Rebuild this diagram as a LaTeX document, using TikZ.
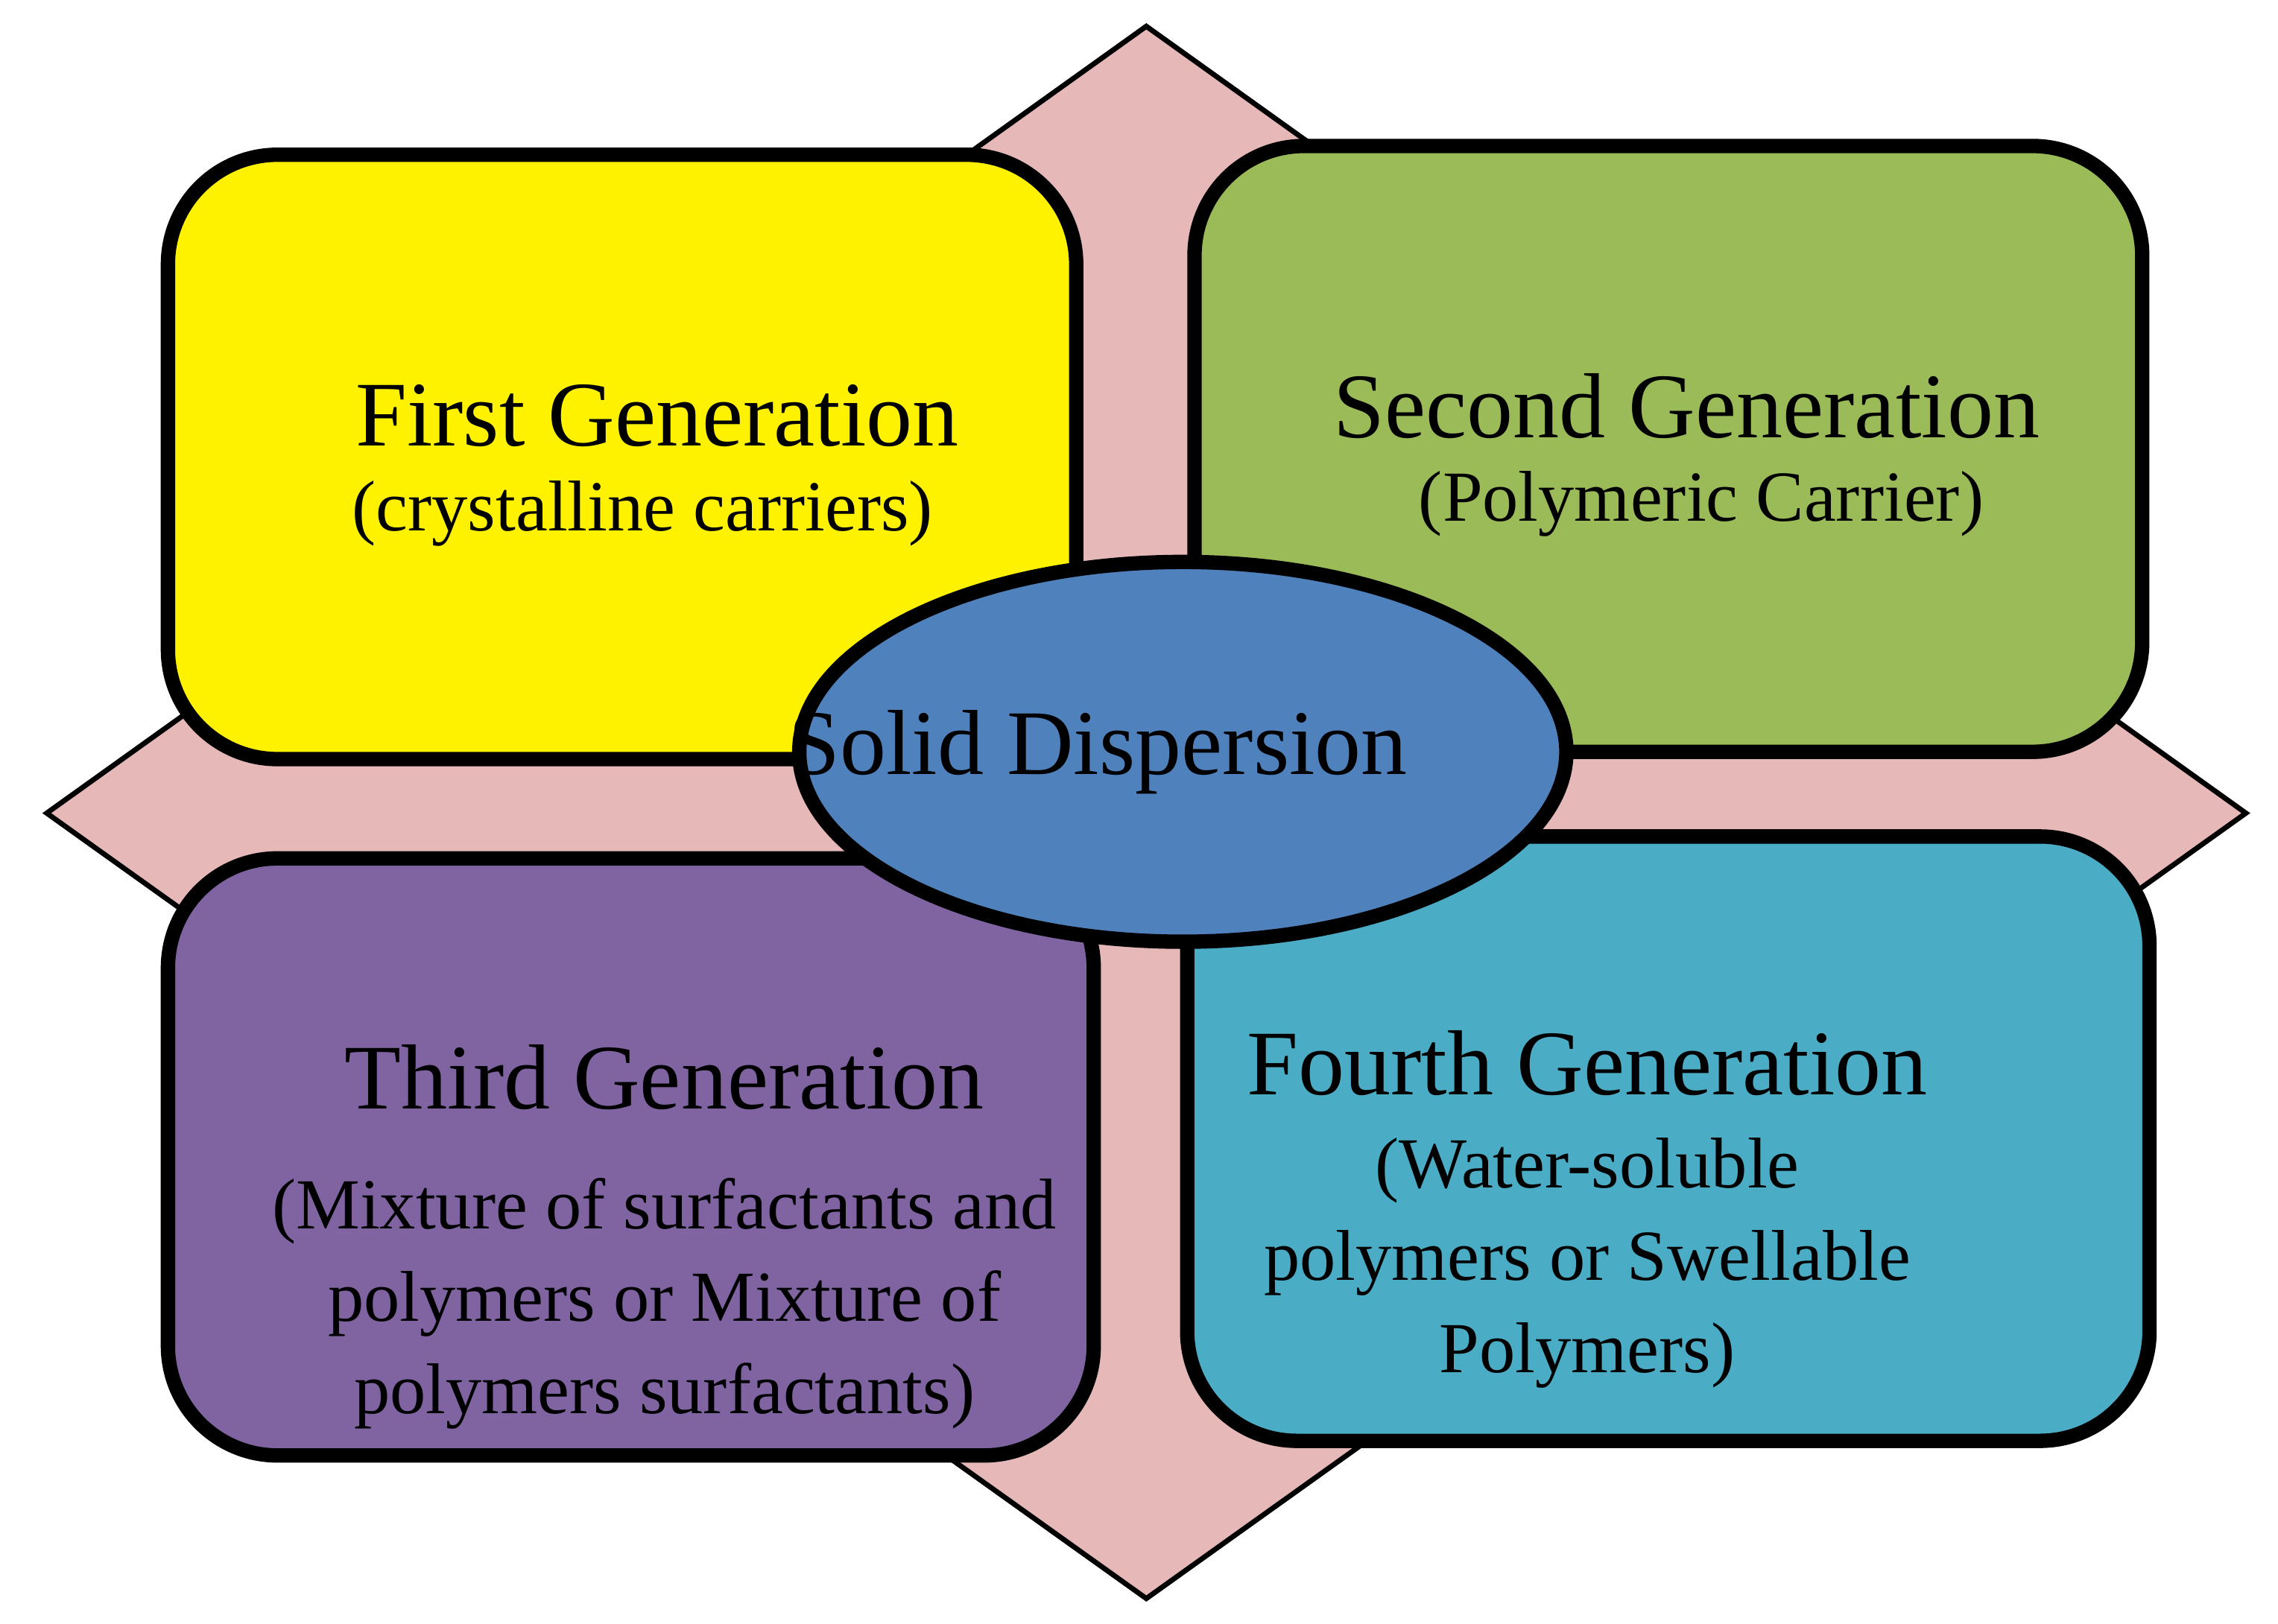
\documentclass[tikz,border=0pt]{standalone}
\usetikzlibrary{shapes.geometric}
\usepackage{fontspec}
\setmainfont{Liberation Serif}
\begin{document}
\begin{tikzpicture}[x=0.01cm,y=-0.01cm,
 box/.style={draw=black,line width=2.8pt,rounded corners=0.75cm},
 big/.style={font=\fontsize{18}{22}\selectfont},
 small/.style={font=\fontsize{14}{18}\selectfont,align=center}]
\useasboundingbox (0,0) rectangle (1560,1112);
\fill[white] (0,0) rectangle (1560,1112);
\draw[fill={rgb,255:red,230;green,184;blue,183},line width=1pt] (785,18) -- (1538,557) -- (785,1095) -- (32,557) -- cycle;
\draw[box,fill=yellow] (115,106) rectangle (737,520);
\draw[box,fill={rgb,255:red,155;green,187;blue,89}] (818,100) rectangle (1467,515);
\draw[box,fill={rgb,255:red,128;green,100;blue,162}] (115,588) rectangle (749,997);
\draw[box,fill={rgb,255:red,75;green,172;blue,198}] (813,573) rectangle (1472,987);
\node[draw=black,line width=2.8pt,ellipse,fill={rgb,255:red,79;green,129;blue,189},minimum width=5.25cm,minimum height=2.6cm,inner sep=0pt] (sd) at (810,515) {};
\node[big] at (752,515) {Solid Dispersion};
\node[big] (t1) at (450,285) {First Generation};
\node[small] (s1) at (440,352) {(crystalline carriers)};
\node[big] (t2) at (1155,278) {Second Generation};
\node[small] (s2) at (1165,345) {(Polymeric Carrier)};
\node[big] (t3) at (455,738) {Third Generation};
\node[small] (s3) at (455,893) {(Mixture of surfactants and\\polymers or Mixture of\\polymers surfactants)};
\node[big] (t4) at (1087,728) {Fourth Generation};
\node[small] (s4) at (1087,865) {(Water-soluble\\polymers or Swellable\\Polymers)};
\end{tikzpicture}
\end{document}
